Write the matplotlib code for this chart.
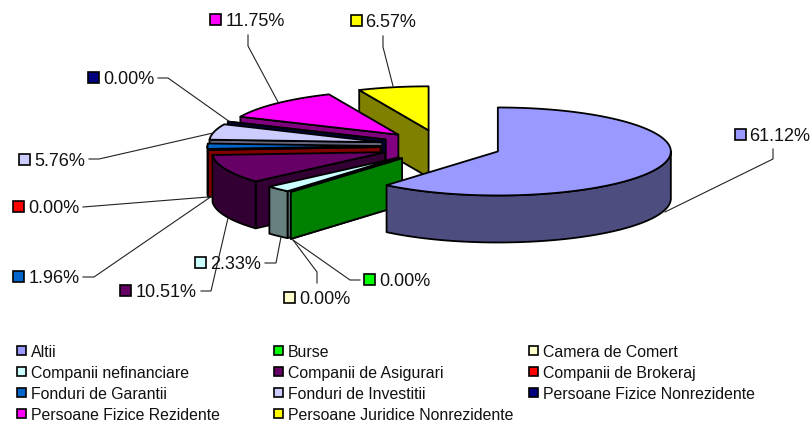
import numpy as np
import matplotlib
matplotlib.use("Agg")
import matplotlib.pyplot as plt
from matplotlib.patches import Polygon, Rectangle

categories = ["Altii", "Burse", "Camera de Comert", "Companii nefinanciare",
              "Companii de Asigurari", "Companii de Brokeraj", "Fonduri de Garantii",
              "Fonduri de Investitii", "Persoane Fizice Nonrezidente",
              "Persoane Fizice Rezidente", "Persoane Juridice Nonrezidente"]
shares = [61.12, 0.00, 0.00, 2.33, 10.51, 0.00, 1.96, 5.76, 0.00, 11.75, 6.57]
colors = ["#9999FF", "#00FF00", "#FFFFCC", "#CCFFFF", "#660066", "#FF0000",
          "#0066CC", "#CCCCFF", "#000080", "#FF00FF", "#FFFF00"]

# layout (pixels)
CX, CY, RX, RY, DEPTH = 441, 146, 173, 44, 47
EX, EY = 60.5, 16
label_box = [(740, 135), (369, 280), (289, 298), (200, 263), (125, 291), (18, 207),
             (18, 277), (24, 160), (93, 78), (215, 20), (356, 21)]
label_text_x = [749, 379, 299, 210, 136, 28, 29, 34, 103, 226, 365]
leaders = [[(665, 212), (773, 159), (773, 149)], [(293, 240), (350, 280), (360, 280)],
           [(293, 240), (317, 272), (317, 283)], [(281, 237), (276, 263), (265, 263)],
           [(228, 218), (211, 291), (201, 291)], [(208, 197), (83, 207)],
           [(212, 196), (94, 277), (83, 277)], [(213, 133), (99, 159), (89, 159)],
           [(230, 122), (168, 78), (158, 78)], [(278, 102), (248, 46), (248, 35)],
           [(393, 86), (383, 47), (383, 36)]]
legend_x = [21, 278, 533]
legend_y = [351, 372, 393, 414]

plt.rcParams["font.family"] = ["Liberation Sans", "DejaVu Sans"]
fig = plt.figure(figsize=(8.11, 4.23), dpi=100)
ax = fig.add_axes([0, 0, 1, 1])
ax.set_xlim(0, 811)
ax.set_ylim(423, 0)
ax.axis("off")


def pt(theta_deg, ox, oy):
    t = np.radians(theta_deg)
    return (ox + RX * np.sin(t), oy - RY * np.cos(t))


def shade(c):
    rgb = np.array(matplotlib.colors.to_rgb(c)) * 0.5
    return tuple(rgb)


def poly(points, fc):
    ax.add_patch(Polygon(points, closed=True, fc=fc, ec="black", lw=1.3, joinstyle="round"))


angles = np.cumsum([0] + shares) * 3.6
# painter's order: back slices first, the large slice last
order = [10, 9, 8, 7, 6, 5, 4, 3, 2, 1, 0]
for i in order:
    a0, a1 = angles[i], angles[i + 1]
    mid = np.radians((a0 + a1) / 2)
    ox, oy = CX + EX * np.sin(mid), CY - EY * np.cos(mid)
    dark = shade(colors[i])
    apex = (ox, oy)
    for a, vis in ((a0, 180 < a0 < 360), (a1, 0 < a1 < 180)):
        if vis:
            p = pt(a, ox, oy)
            poly([apex, p, (p[0], p[1] + DEPTH), (apex[0], apex[1] + DEPTH)], dark)
    lo, hi = max(a0, 90), min(a1, 270)
    if hi > lo:
        arc = [pt(a, ox, oy) for a in np.linspace(lo, hi, 80)]
        poly(arc + [(x, y + DEPTH) for x, y in arc[::-1]], dark)
    arc = [pt(a, ox, oy) for a in np.linspace(a0, a1, 120)]
    poly([apex] + arc, colors[i])

BOX = 11
for i, share in enumerate(shares):
    xs, ys = zip(*leaders[i])
    ax.plot(xs, ys, color="#222222", lw=0.8, solid_joinstyle="miter")
    bx, by = label_box[i]
    ax.add_patch(Rectangle((bx - BOX / 2, by - BOX / 2), BOX, BOX, fc=colors[i], ec="black", lw=1.2))
    ax.text(label_text_x[i], by - 0.5, f"{share:.2f}%", fontsize=13, va="center_baseline", ha="left", color="#111111")

for i, name in enumerate(categories):
    col, row = i % 3, i // 3
    x, y = legend_x[col], legend_y[row]
    ax.add_patch(Rectangle((x - 4.5, y - 4.5), 9, 9, fc=colors[i], ec="black", lw=1.2))
    ax.text(x + 10, y, name, fontsize=11.4, va="center_baseline", ha="left", color="#111111")

fig.savefig("out.png", dpi=100)
